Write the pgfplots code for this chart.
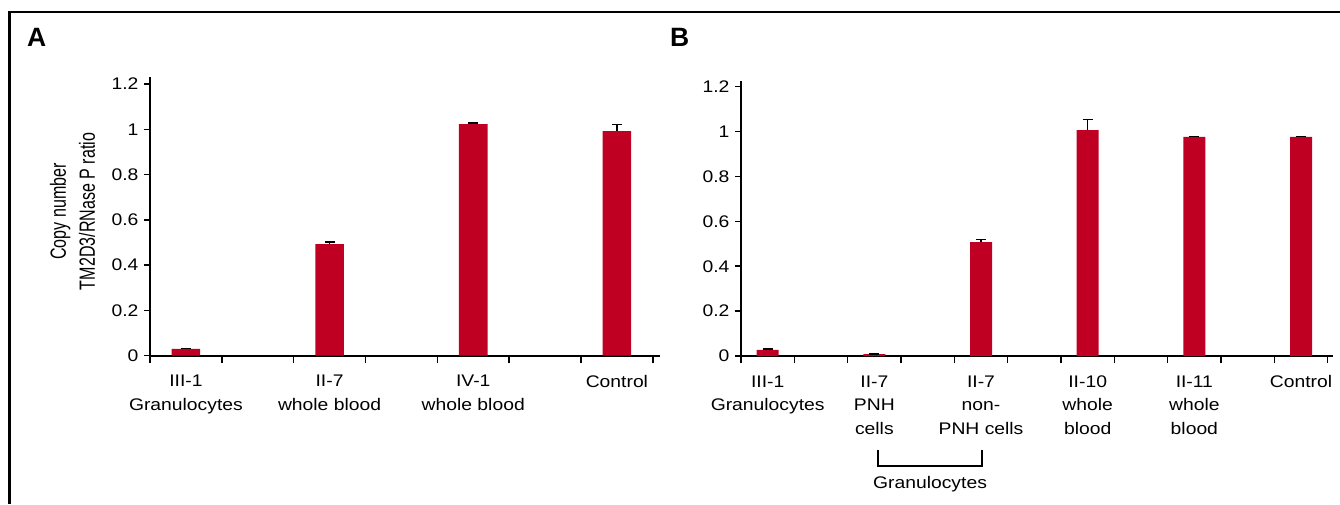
\documentclass[border=0pt]{standalone}
\usepackage{pgfplots}
\pgfplotsset{compat=1.18}
\usepackage{fontspec}
\setmainfont{Liberation Sans}
\newfontfamily\tickfont{Liberation Sans}[FakeStretch=1.15]
\definecolor{barred}{RGB}{192,0,35}
\begin{document}
\begin{tikzpicture}[x=1pt,y=1pt]
\path[use as bounding box] (0pt,0pt) rectangle (1340pt,504pt);
\draw[line width=2.4pt] (9.5pt,0pt) -- (9.5pt,492pt) -- (1340pt,492pt);
\node[font=\fontsize{26.5}{30}\selectfont\bfseries, anchor=base west, inner sep=0pt] at (27pt,457pt) {A};
\node[font=\fontsize{26.5}{30}\selectfont\bfseries, anchor=base west, inner sep=0pt] at (670pt,457pt) {B};
\node[rotate=90, align=center, font=\fontsize{22}{29}\selectfont] at (72.5pt,292.5pt)
  {\scalebox{0.73}[1]{Copy number}\\\scalebox{0.73}[1]{TM2D3/RNase P ratio}};
\pgfplotsset{panel/.style={
  anchor=south west,
  axis x line=bottom, axis y line=left,
  axis line style={-, line width=2pt, black},
  every outer x axis line/.append style={-},
  every outer y axis line/.append style={-},
  tick align=outside, major tick length=6pt, minor tick length=7pt,
  major x tick style={draw=none},
  minor x tick style={line width=1.5pt, black},
  major y tick style={line width=1.5pt, black},
  ymin=0, ytick={0,0.2,0.4,0.6,0.8,1,1.2},
  yticklabels={0,0.2,0.4,0.6,0.8,1,1.2},
  ticklabel style={font=\tickfont\fontsize{16.8}{23.5}\selectfont},
  xticklabel style={align=center, anchor=north, yshift=-10pt},
  yticklabel style={xshift=-2pt},
  xmin=-0.25,
  ybar, enlarge x limits=false,
  error bars/y dir=plus, error bars/y explicit,
  error bars/error bar style={line width=1.5pt, black},
  error bars/error mark options={rotate=90, mark size=5pt, line width=1.5pt, black},
}}
\begin{axis}[panel, at={(150pt,148.3pt)},
  x=143.66pt, y=226.4pt, xmax=3.3, ymax=1.232,
  bar width=28.6pt,
  xtick={0,1,2,3},
  minor xtick={-0.25,0.25,0.75,1.25,1.75,2.25,2.75,3.25},
  xticklabels={{III-1\\Granulocytes},{II-7\\whole blood},{IV-1\\whole blood},{Control}}]
\addplot[fill=barred, draw=none] coordinates {
  (0,0.030) +- (0,0.002)
  (1,0.493) +- (0,0.010)
  (2,1.023) +- (0,0.005)
  (3,0.992) +- (0,0.030)
};
\end{axis}
\begin{axis}[panel, at={(741pt,148pt)},
  x=106.67pt, y=224.4pt, xmax=5.3, ymax=1.227,
  bar width=22pt,
  xtick={0,1,2,3,4,5},
  minor xtick={-0.25,0.25,0.75,1.25,1.75,2.25,2.75,3.25,3.75,4.25,4.75,5.25},
  xticklabels={{III-1\\Granulocytes},{II-7\\PNH\\cells},{II-7\\non-\\PNH cells},{II-10\\whole\\blood},{II-11\\whole\\blood},{Control}}]
\addplot[fill=barred, draw=none] coordinates {
  (0,0.027) +- (0,0.004)
  (1,0.008) +- (0,0.000)
  (2,0.507) +- (0,0.013)
  (3,1.007) +- (0,0.048)
  (4,0.976) +- (0,0.003)
  (5,0.976) +- (0,0.003)
};
\end{axis}
\draw[line width=2pt] (877.5pt,54pt) -- (877.5pt,38pt) -- (982.4pt,38pt) -- (982.4pt,54pt);
\node[font=\tickfont\fontsize{16.8}{20}\selectfont, anchor=base, inner sep=0pt] at (930pt,16pt) {Granulocytes};
\end{tikzpicture}
\end{document}
